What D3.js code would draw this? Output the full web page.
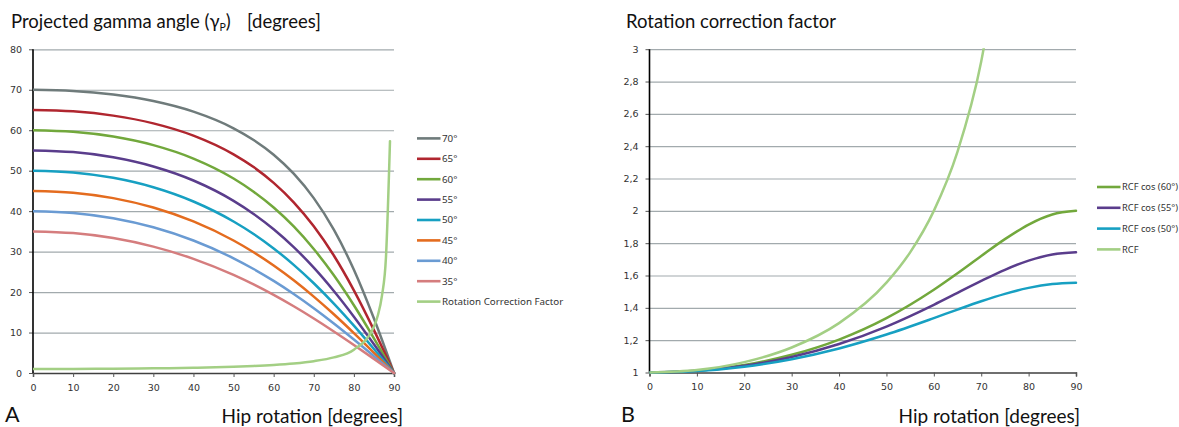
<!DOCTYPE html>
<html><head><meta charset="utf-8">
<script src="https://cdn.jsdelivr.net/npm/d3@7"></script>
<style>
html,body{margin:0;padding:0;background:#fff;}
svg{display:block;}
</style></head>
<body>
<svg id="c" width="1179" height="427"></svg>
<script>
// ---------- Data (chart A) ----------
const xGamma = [0,10,20,30,40,50,55,60,65,70,75,80,85,90];
const gamma70 = [70,69.72,68.83,67.21,64.59,60.48,57.60,53.95,49.26,43.22,35.42,25.51,13.47,0];
const gamma65 = [65,64.66,63.61,61.70,58.67,54.04,50.89,46.99,42.19,36.26,29.03,20.42,10.59,0];
const gamma60 = [60,59.62,58.43,56.31,52.99,48.07,44.81,40.89,36.21,30.64,24.15,16.74,8.58,0];
const gamma55 = [55,54.59,53.31,51.04,47.57,42.55,39.32,35.53,31.11,26.04,20.28,13.93,7.10,0];
const gamma50 = [50,49.57,48.24,45.91,42.39,37.45,34.36,30.79,26.73,22.18,17.14,11.69,5.93,0];
const gamma45 = [45,44.56,43.22,40.89,37.45,32.74,29.84,26.57,22.91,18.88,14.51,9.85,4.98,0];
const gamma40 = [40,39.57,38.26,36.01,32.74,28.34,25.70,22.76,19.53,16.01,12.25,8.29,4.18,0];
const gamma35 = [35,34.59,33.35,31.23,28.21,24.23,21.88,19.30,16.49,13.47,10.27,6.93,3.49,0];
const xRcfA = [0,10,20,30,40,50,55,60,65,70,75,80,85,86,87,88,89];
const rcfA = [1,1.015,1.064,1.155,1.305,1.556,1.743,2,2.366,2.924,3.864,5.759,11.474,14.336,19.107,28.654,57.299];
const seriesNamesA = ["70°","65°","60°","55°","50°","45°","40°","35°","Rotation Correction Factor"];
const xTicksA = [0,10,20,30,40,50,60,70,80,90];
const yTicksA = [0,10,20,30,40,50,60,70,80];

// ---------- Data (chart B) ----------
const xRcfCos = [0,10,20,30,40,50,60,65,70,75,80,85,90];
const rcfCos60 = [1,1.0115,1.0470,1.1094,1.2038,1.3364,1.5119,1.6138,1.7207,1.8250,1.9153,1.9776,2];
const rcfCos55 = [1,1.0103,1.0417,1.0962,1.1763,1.2843,1.4188,1.4926,1.5666,1.6353,1.6922,1.7301,1.7434];
const rcfCos50 = [1,1.0090,1.0362,1.0826,1.1489,1.2350,1.3364,1.3894,1.4406,1.4866,1.5234,1.5474,1.5557];
const xRcfB = [0,10,20,30,40,50,55,60,65,70,75];
const rcfB = [1,1.0154,1.0642,1.1547,1.3054,1.5557,1.7434,2,2.3662,2.9238,3.8637];
const seriesNamesB = ["RCF cos (60°)","RCF cos (55°)","RCF cos (50°)","RCF"];
const xTicksB = [0,10,20,30,40,50,60,70,80,90];
const yTicksB = [1,1.2,1.4,1.6,1.8,2,2.2,2.4,2.6,2.8,3];

// ---------- Styles ----------
const colA = ["#6f7b7b","#b0262f","#72a83c","#5a3d8c","#17a0c2","#e46c1f","#6a9bd3","#d57d7e","#a3cf84"];
const colB = ["#72a83c","#5a3d8c","#17a0c2","#a3cf84"];
const gridCol = "#a2aaad";
const tickFont = "'DejaVu Sans', Verdana, sans-serif";
const legFont = "'Noto Sans', 'Open Sans', sans-serif";
const titleFont = "Lato, 'Open Sans', sans-serif";

const svg = d3.select("#c");
svg.append("rect").attr("width",1179).attr("height",427).attr("fill","#fff");

function panel(opt){
  const g = svg.append("g");
  const x = d3.scaleLinear().domain([0,90]).range(opt.xr);
  const y = d3.scaleLinear().domain(opt.yd).range(opt.yr);
  // grid
  g.append("g").selectAll("line").data(opt.yTicks.filter(v=>v!==opt.yd[0])).join("line")
    .attr("x1",opt.xr[0]).attr("x2",opt.xr[1])
    .attr("y1",d=>y(d)+0.5).attr("y2",d=>y(d)+0.5)
    .attr("stroke",gridCol).attr("stroke-width",1.2);
  // y axis
  const ya = g.append("g").attr("transform",`translate(${opt.xr[0]},0)`)
    .call(d3.axisLeft(y).tickValues(opt.yTicks).tickSize(4).tickPadding(7).tickFormat(opt.fmt));
  ya.select(".domain").remove();
  ya.selectAll(".tick line").attr("stroke","#555");
  ya.selectAll("text").attr("font-family",tickFont).attr("font-size",9.5).attr("fill","#333");
  // x axis
  const xa = g.append("g").attr("transform",`translate(0,${opt.yr[0]})`)
    .call(d3.axisBottom(x).tickValues(opt.xTicks).tickSize(4).tickPadding(7).tickFormat(d3.format("d")));
  xa.select(".domain").attr("stroke","#404040").attr("stroke-width",1.5);
  xa.selectAll(".tick line").attr("stroke","#555");
  xa.selectAll("text").attr("font-family",tickFont).attr("font-size",9.5).attr("fill","#333");
  // y axis line
  g.append("line").attr("x1",opt.xr[0]).attr("x2",opt.xr[0])
    .attr("y1",opt.yr[1]).attr("y2",opt.yr[0]).attr("stroke","#000").attr("stroke-width",1.6);
  // clip
  const cid = opt.id+"clip";
  svg.append("clipPath").attr("id",cid).append("rect")
    .attr("x",opt.xr[0]).attr("y",opt.yr[1]-1).attr("width",opt.xr[1]-opt.xr[0]+2).attr("height",opt.yr[0]-opt.yr[1]+4);
  const lines = g.append("g").attr("clip-path",`url(#${cid})`);
  const lg = d3.line().x(d=>x(d[0])).y(d=>y(d[1])).curve(d3.curveMonotoneX);
  opt.series.forEach((s,i)=>{
    lines.append("path").datum(d3.zip(s.x,s.v)).attr("d",lg)
      .attr("fill","none").attr("stroke",s.c).attr("stroke-width",2.5)
      .attr("stroke-linejoin","round").attr("stroke-linecap","round");
  });
  // legend
  const leg = g.append("g");
  opt.series.slice().sort((a,b)=>a.order-b.order).forEach((s,i)=>{
    const yy = opt.leg.y + i*opt.leg.dy;
    leg.append("line").attr("x1",opt.leg.x).attr("x2",opt.leg.x+23.5)
      .attr("y1",yy).attr("y2",yy).attr("stroke",s.c).attr("stroke-width",2.6);
    leg.append("text").attr("x",opt.leg.x+25).attr("y",yy).attr("dy","0.35em")
      .attr("font-family",legFont).attr("font-size",opt.leg.fs).attr("fill","#333").text(s.name);
  });
  // title
  const t = g.append("text").attr("x",opt.title.x).attr("y",28)
    .attr("font-family",titleFont).attr("font-size",18.5).attr("fill","#111");
  opt.title.parts(t);
  // x title
  g.append("text").attr("x",opt.xt.x).attr("y",423).attr("text-anchor","end")
    .attr("font-family",titleFont).attr("font-size",19).attr("fill","#111").text("Hip rotation [degrees]");
  g.append("text").attr("x",opt.letter.x).attr("y",422)
    .attr("font-family",titleFont).attr("font-size",21.5).attr("fill","#111").text(opt.letter.t);
}

const gammaSeries = [gamma70,gamma65,gamma60,gamma55,gamma50,gamma45,gamma40,gamma35];
const seriesA = gammaSeries.map((v,i)=>({x:xGamma,v:v,c:colA[i],name:seriesNamesA[i],order:i}));
seriesA.push({x:xRcfA,v:rcfA,c:colA[8],name:seriesNamesA[8],order:8});
panel({
  id:"A", xr:[33,394], yd:[0,80], yr:[373,49.3],
  xTicks:xTicksA, yTicks:yTicksA, fmt:d3.format("d"),
  series:seriesA,
  leg:{x:417,y:138.4,dy:20.4,fs:9.8},
  title:{x:11,parts:t=>{
    t.append("tspan").text("Projected gamma angle (γ");
    t.append("tspan").attr("font-size",10.5).attr("dy",3).text("P");
    t.append("tspan").attr("dy",-3).text(")");
    t.append("tspan").attr("x",247).text("[degrees]");
  }},
  xt:{x:403}, letter:{x:5,t:"A"}
});

const seriesB = [
  {x:xRcfCos,v:rcfCos60,c:colB[0],name:seriesNamesB[0],order:0},
  {x:xRcfCos,v:rcfCos55,c:colB[1],name:seriesNamesB[1],order:1},
  {x:xRcfCos,v:rcfCos50,c:colB[2],name:seriesNamesB[2],order:2},
  {x:xRcfB,v:rcfB,c:colB[3],name:seriesNamesB[3],order:3}
];
panel({
  id:"B", xr:[649.5,1076], yd:[1,3], yr:[372.5,49.2],
  xTicks:xTicksB, yTicks:yTicksB, fmt:d=>(Math.round(d*10)/10).toString().replace(".",","),
  series:seriesB,
  leg:{x:1097,y:187,dy:20.8,fs:9.3},
  title:{x:626,parts:t=>{ t.text("Rotation correction factor"); }},
  xt:{x:1080}, letter:{x:621,t:"B"}
});
</script>
</body></html>
